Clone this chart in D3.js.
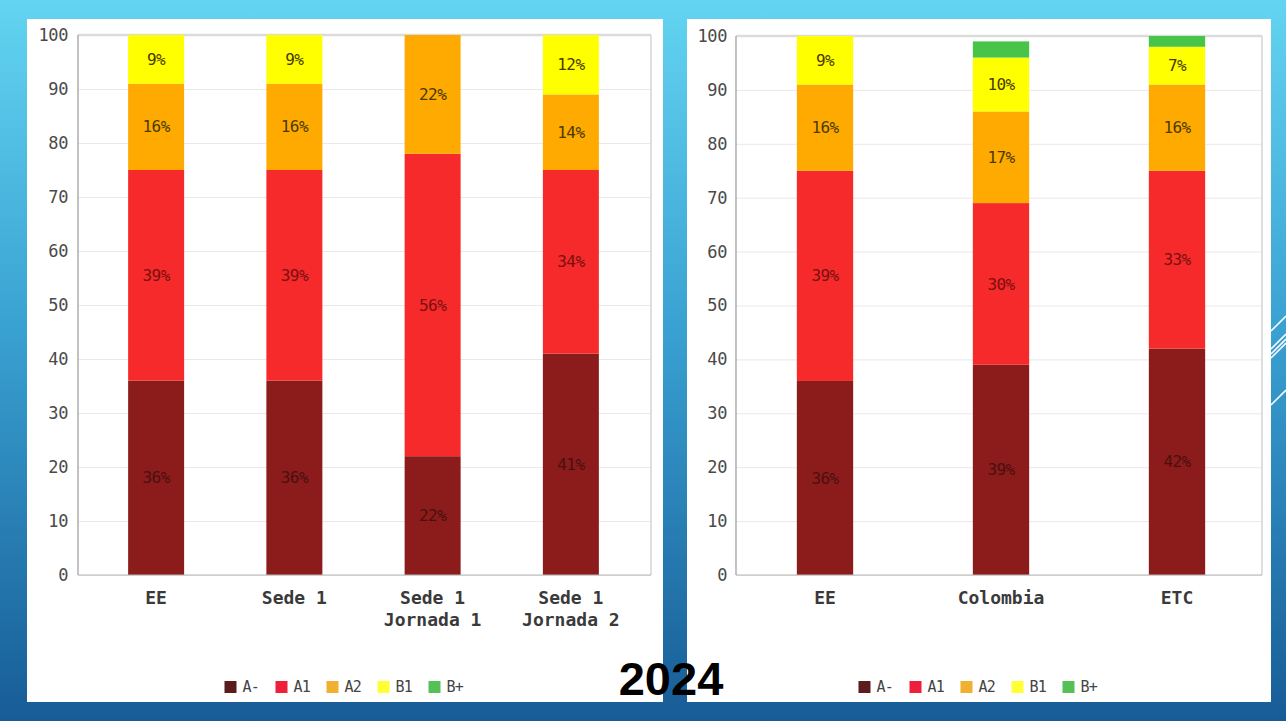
<!DOCTYPE html>
<html>
<head>
<meta charset="utf-8">
<script src="https://cdn.jsdelivr.net/npm/d3@7/dist/d3.min.js"></script>
<style>
  html, body { margin: 0; padding: 0; background: #1b6aa5; }
  svg { display: block; }
</style>
</head>
<body>
<svg id="chart" width="1286" height="721"></svg>
<script>
// ---------- DATA ----------
const levels = ["A-", "A1", "A2", "B1", "B+"];
const levelColors = ["#8c1b1b", "#f62a2a", "#ffaa00", "#ffff00", "#48c448"];
const legendColors = ["#5a1c1c", "#ee1f3a", "#f0b030", "#ffff33", "#55c055"];
const yTicks = [0, 10, 20, 30, 40, 50, 60, 70, 80, 90, 100];

const leftCategories = [["EE"], ["Sede 1"], ["Sede 1", "Jornada 1"], ["Sede 1", "Jornada 2"]];
const leftAminus = [36, 36, 22, 41];
const leftA1 = [39, 39, 56, 34];
const leftA2 = [16, 16, 22, 14];
const leftB1 = [9, 9, 0, 12];
const leftBplus = [0, 0, 0, 0];

const rightCategories = [["EE"], ["Colombia"], ["ETC"]];
const rightAminus = [36, 39, 42];
const rightA1 = [39, 30, 33];
const rightA2 = [16, 17, 16];
const rightB1 = [9, 10, 7];
const rightBplus = [0, 3, 2];

const yearLabel = "2024";

// ---------- DRAW ----------
const svg = d3.select("#chart");
const defs = svg.append("defs");
const grad = defs.append("linearGradient").attr("id", "bg")
  .attr("x1", 0).attr("y1", 0).attr("x2", 0).attr("y2", 1);
grad.append("stop").attr("offset", "0%").attr("stop-color", "#63d4f1");
grad.append("stop").attr("offset", "45%").attr("stop-color", "#3aa2d2");
grad.append("stop").attr("offset", "100%").attr("stop-color", "#175c97");
svg.append("rect").attr("width", 1286).attr("height", 721).attr("fill", "url(#bg)");

// decorative diagonal lines at right edge
const deco = svg.append("g").attr("stroke", "#ffffff").attr("stroke-width", 1.6);
[[1271, 331, 1286, 316], [1271, 349, 1286, 334], [1271, 354, 1286, 339], [1271, 358, 1286, 343], [1271, 405, 1286, 390]]
  .forEach(l => deco.append("line").attr("x1", l[0]).attr("y1", l[1]).attr("x2", l[2]).attr("y2", l[3]));

const mono = "'DejaVu Sans Mono', monospace";

function drawChart(cfg) {
  const g = svg.append("g");
  g.append("rect").attr("x", cfg.panel[0]).attr("y", cfg.panel[1])
    .attr("width", cfg.panel[2]).attr("height", cfg.panel[3]).attr("fill", "#ffffff");

  const series = cfg.series;
  const n = cfg.categories.length;
  const rows = d3.range(n).map(i => {
    const r = { idx: i };
    levels.forEach((lv, k) => r[lv] = series[k][i]);
    return r;
  });
  const stacked = d3.stack().keys(levels)(rows);

  const x = d3.scaleBand().domain(d3.range(n)).range(cfg.bandRange)
    .paddingInner(cfg.padInner).paddingOuter(cfg.padInner / 2);
  const y = d3.scaleLinear().domain([0, 100]).range([cfg.y0, cfg.y100]).clamp(true);

  const [fx0, fx1] = cfg.frameX;

  // gridlines
  g.append("g").attr("transform", `translate(${fx0},0)`)
    .call(d3.axisLeft(y).tickValues(yTicks).tickSize(-(fx1 - fx0)).tickFormat(""))
    .call(s => s.select(".domain").remove())
    .call(s => s.selectAll("line").attr("stroke", "#e9e9e9").attr("stroke-width", 1));

  // frame
  g.append("line").attr("x1", fx0).attr("x2", fx1).attr("y1", y(100)).attr("y2", y(100))
    .attr("stroke", "#dcdcdc").attr("stroke-width", 2.5);
  g.append("line").attr("x1", fx1).attr("x2", fx1).attr("y1", y(100)).attr("y2", y(0))
    .attr("stroke", "#d4d4d4").attr("stroke-width", 1.5);

  // bars
  stacked.forEach((layer, k) => {
    g.append("g").selectAll("rect").data(layer).join("rect")
      .attr("x", d => x(d.data.idx))
      .attr("width", x.bandwidth())
      .attr("y", d => y(d[1]))
      .attr("height", d => Math.max(0, y(d[0]) - y(d[1])))
      .attr("fill", levelColors[k]);
  });

  // bar labels
  stacked.forEach((layer, k) => {
    g.append("g").selectAll("text").data(layer.filter(d => (d[1] - d[0]) >= 5)).join("text")
      .attr("x", d => x(d.data.idx) + x.bandwidth() / 2)
      .attr("y", d => (y(d[0]) + y(Math.min(d[1], 100))) / 2)
      .attr("dy", "0.35em")
      .attr("text-anchor", "middle")
      .attr("font-family", mono)
      .attr("font-size", 16)
      .attr("letter-spacing", -0.6)
      .attr("fill", k === 0 ? "#4a1010" : (k === 1 ? "#7a1010" : "#4a3a00"))
      .text(d => (d[1] - d[0]) + "%");
  });

  // left axis line and bottom line
  g.append("line").attr("x1", fx0).attr("x2", fx0).attr("y1", y(100)).attr("y2", y(0))
    .attr("stroke", "#9a9a9a").attr("stroke-width", 1.2);
  g.append("line").attr("x1", fx0).attr("x2", fx1).attr("y1", y(0)).attr("y2", y(0))
    .attr("stroke", "#b5b5b5").attr("stroke-width", 1.2);

  // y tick labels
  g.append("g").attr("transform", `translate(${fx0},0)`)
    .call(d3.axisLeft(y).tickValues(yTicks).tickSize(0).tickPadding(cfg.tickPad))
    .call(s => s.select(".domain").remove())
    .call(s => s.selectAll("text").attr("font-family", mono).attr("font-size", 17)
      .attr("fill", "#4a4a4a").attr("letter-spacing", -0.4));

  // category labels
  const xa = g.append("g").attr("transform", `translate(0,${y(0)})`)
    .call(d3.axisBottom(x).tickSize(0).tickFormat(""))
    .call(s => s.select(".domain").remove());
  xa.selectAll(".tick").each(function (d) {
    const t = d3.select(this).append("text")
      .attr("text-anchor", "middle")
      .attr("font-family", mono)
      .attr("font-size", 18)
      .attr("font-weight", "bold")
      .attr("fill", "#3a3a3a");
    cfg.categories[d].forEach((line, li) => {
      t.append("tspan").attr("x", 0).attr("y", 29 + li * 22).text(line);
    });
  });

  // legend
  const lg = g.append("g");
  const itemW = 51;
  const totalW = levels.length * itemW - 14;
  const cx = cfg.panel[0] + cfg.panel[2] / 2;
  const lx0 = cx - totalW / 2;
  levels.forEach((lv, k) => {
    const ix = lx0 + k * itemW;
    lg.append("rect").attr("x", ix).attr("y", cfg.legendY - 6).attr("width", 12).attr("height", 12)
      .attr("fill", legendColors[k]);
    lg.append("text").attr("x", ix + 18).attr("y", cfg.legendY).attr("dy", "0.36em")
      .attr("font-family", mono).attr("font-size", 15).attr("fill", "#444")
      .attr("letter-spacing", -0.8)
      .text(lv);
  });
}

drawChart({
  panel: [27, 19, 636, 683],
  categories: leftCategories,
  series: [leftAminus, leftA1, leftA2, leftB1, leftBplus],
  bandRange: [87, 640],
  padInner: 0.595,
  y0: 575, y100: 35,
  frameX: [78, 651],
  tickPad: 10,
  legendY: 687
});

drawChart({
  panel: [687, 19, 584, 683],
  categories: rightCategories,
  series: [rightAminus, rightA1, rightA2, rightB1, rightBplus],
  bandRange: [737, 1265],
  padInner: 0.68,
  y0: 575, y100: 36,
  frameX: [736, 1262],
  tickPad: 9,
  legendY: 687
});

// year label
svg.append("text").attr("x", 671).attr("y", 695)
  .attr("text-anchor", "middle")
  .attr("font-family", "'Liberation Sans', Arial, sans-serif")
  .attr("font-weight", "bold")
  .attr("font-size", 47)
  .attr("fill", "#000")
  .text(yearLabel);
</script>
</body>
</html>
